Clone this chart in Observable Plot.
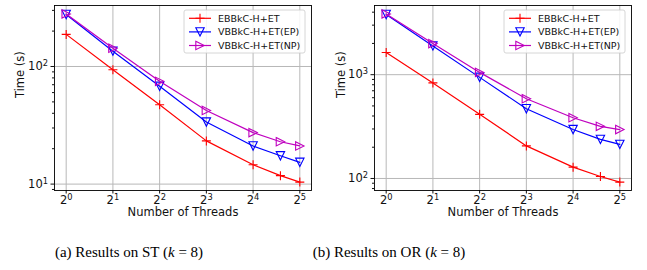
<!DOCTYPE html>
<html><head><meta charset="utf-8">
<script src="https://cdn.jsdelivr.net/npm/d3@7"></script>
<script src="https://cdn.jsdelivr.net/npm/@observablehq/plot@0.6"></script>
<style>
body{margin:0;background:#fff;}
#fig{position:relative;width:647px;height:270px;background:#fff;overflow:hidden}
.panel{position:absolute;top:0}
.cap{position:absolute;top:244px;font-family:"Liberation Serif",serif;font-size:15px;transform:translateX(-50%);white-space:nowrap;color:#000}
</style></head><body>
<div id="fig"></div>
<script>
// ---- data ----
const threads = [1, 2, 4, 8, 16, 24, 32];
const seriesNames = ["EBBkC-H+ET", "VBBkC-H+ET(EP)", "VBBkC-H+ET(NP)"];
const seriesColors = ["#ff0000", "#0000ff", "#bf00bf"];
// ST (k = 8)
const stEBBkC    = [187.5, 93.8, 47.3, 23.3, 14.6, 11.8, 10.4];
const stVBBkC_EP = [277, 135, 67.8, 33.7, 21.1, 17.4, 15.3];
const stVBBkC_NP = [280, 143, 74.8, 42.3, 27.4, 22.9, 21.1];
// OR (k = 8)
const orEBBkC    = [1633, 833, 415, 206, 128.6, 104.5, 92.3];
const orVBBkC_EP = [3800, 1892, 942, 470, 296, 238, 213];
const orVBBkC_NP = [3850, 1993, 1052, 586, 385, 318, 296];
// ticks
const xTicks = [1, 2, 4, 8, 16, 32];
const stYTicks = [10, 100];
const orYTicks = [100, 1000];
const xLabel = "Number of Threads";
const yLabel = "Time (s)";
const captions = [
  ["(a) Results on ST (", "k", " = 8)"],
  ["(b) Results on OR (", "k", " = 8)"]
];

// ---- helpers ----
const fmtPow = base => v => base + "^" + Math.round(Math.log(v) / Math.log(base));

const plusSym = {draw(ctx, size) { const h = Math.sqrt(size / Math.PI);
  ctx.moveTo(-h, 0); ctx.lineTo(h, 0); ctx.moveTo(0, -h); ctx.lineTo(0, h); }};
const triDown = {draw(ctx, size) { const h = Math.sqrt(size / Math.PI);
  ctx.moveTo(-h, -h); ctx.lineTo(h, -h); ctx.lineTo(0, h); ctx.closePath(); }};
const triRight = {draw(ctx, size) { const h = Math.sqrt(size / Math.PI);
  ctx.moveTo(-h, -h); ctx.lineTo(h, 0); ctx.lineTo(-h, h); ctx.closePath(); }};
const symbols = [plusSym, triDown, triRight];

function table(arrays) {
  const rows = [];
  arrays.forEach((arr, s) => arr.forEach((v, i) => rows.push({threads: threads[i], time: v, series: s})));
  return rows;
}

function panel(arrays, yTicks, cfg) {
  const data = table(arrays);
  const ly = d3.extent(data, d => Math.log10(d.time));
  const py = (ly[1] - ly[0]) * 0.05;
  const yDomain = [10 ** (ly[0] - py), 10 ** (ly[1] + py)];
  const lx = d3.extent(threads, t => Math.log2(t));
  const px = (lx[1] - lx[0]) * 0.05;
  const xDomain = [2 ** (lx[0] - px), 2 ** (lx[1] + px)];
  const minor = [];
  for (let e = Math.floor(ly[0] - py); e <= Math.ceil(ly[1] + py); e++)
    for (let k = 2; k <= 9; k++) { const v = k * 10 ** e; if (v >= yDomain[0] && v <= yDomain[1]) minor.push(v); }

  const marks = [
    Plot.gridX({ticks: xTicks, stroke: "#b8b8b8", strokeOpacity: 1, strokeWidth: 1}),
    Plot.gridY({ticks: yTicks, stroke: "#b8b8b8", strokeOpacity: 1, strokeWidth: 1}),
    Plot.axisX({ticks: xTicks, tickSize: 3.5, tickPadding: 1.5, tickFormat: fmtPow(2), label: null, fontSize: 11.5}),
    Plot.axisY({ticks: yTicks, tickSize: 3.5, tickPadding: 3, tickFormat: fmtPow(10), label: null, fontSize: 11.5}),
    Plot.axisY({ticks: minor, tickSize: 2, tickFormat: () => "", label: null}),
  ];
  seriesNames.forEach((name, s) => {
    const sd = data.filter(d => d.series === s);
    marks.push(Plot.line(sd, {x: "threads", y: "time", stroke: seriesColors[s], strokeWidth: 1.2}));
    marks.push(Plot.dot(sd, {x: "threads", y: "time", symbol: symbols[s], r: s === 0 ? 4.5 : 4.2,
      stroke: seriesColors[s], fill: "none", strokeWidth: 1.1}));
  });
  marks.push(Plot.frame({stroke: "black", strokeWidth: 0.9}));
  marks.push(Plot.text([xLabel], {text: d => d, frameAnchor: "bottom", dy: 25, fontSize: 11.5}));
  marks.push(Plot.text([yLabel], {text: d => d, frameAnchor: "left", dx: cfg.ylabDx, rotate: -90, fontSize: 11.5}));

  const svg = Plot.plot({
    width: cfg.width, height: 222,
    marginLeft: cfg.ml, marginRight: cfg.mr, marginTop: 5, marginBottom: 32,
    style: {fontFamily: "DejaVu Sans", background: "white", color: "#111", overflow: "visible"},
    x: {type: "log", base: 2, domain: xDomain},
    y: {type: "log", domain: yDomain},
    marks
  });

  // superscript tick labels (matplotlib mathtext style)
  d3.select(svg).selectAll("text").each(function() {
    const t = this.textContent;
    if (!t.includes("^")) return;
    const [b, e] = t.split("^");
    const sel = d3.select(this);
    sel.text(null);
    sel.append("tspan").text(b);
    sel.append("tspan").attr("font-size", "8.3px").attr("dy", "-0.5em").text(e);
  });

  // legend (upper right)
  const bw = 121, bh = 43;
  const bx = cfg.width - cfg.mr - 6 - bw, by = 10;
  const g = d3.select(svg).append("g").attr("font-family", "DejaVu Sans").attr("font-size", 9.5)
    .attr("text-anchor", "start");
  g.append("rect").attr("x", bx).attr("y", by).attr("width", bw).attr("height", bh).attr("rx", 2)
    .attr("fill", "white").attr("fill-opacity", 0.85).attr("stroke", "#cccccc").attr("stroke-width", 0.8);
  seriesNames.forEach((name, s) => {
    const yy = by + 8.3 + s * 13.6;
    g.append("line").attr("x1", bx + 5).attr("x2", bx + 27).attr("y1", yy).attr("y2", yy)
      .attr("stroke", seriesColors[s]).attr("stroke-width", 1.2);
    const p = d3.path();
    const r = s === 0 ? 4.5 : 4.2;
    symbols[s].draw(p, r * r * Math.PI);
    g.append("path").attr("d", p.toString()).attr("transform", `translate(${bx + 16},${yy})`)
      .attr("fill", "none").attr("stroke", seriesColors[s]).attr("stroke-width", 1.1);
    g.append("text").attr("x", bx + 34).attr("y", yy).attr("dy", "0.35em").attr("fill", "#111")
      .attr("text-anchor", "start").text(name);
  });
  return svg;
}

const fig = document.getElementById("fig");
const specs = [
  {arrays: [stEBBkC, stVBBkC_EP, stVBBkC_NP], yTicks: stYTicks, cfg: {width: 323, ml: 54, mr: 12, ylabDx: -34}, left: 0, capX: 129},
  {arrays: [orEBBkC, orVBBkC_EP, orVBBkC_NP], yTicks: orYTicks, cfg: {width: 324, ml: 51, mr: 16, ylabDx: -33}, left: 323, capX: 389}
];
specs.forEach((sp, i) => {
  const div = document.createElement("div");
  div.className = "panel";
  div.style.left = sp.left + "px";
  div.appendChild(panel(sp.arrays, sp.yTicks, sp.cfg));
  fig.appendChild(div);
  const cap = document.createElement("div");
  cap.className = "cap";
  cap.style.left = sp.capX + "px";
  const [a, k, b] = captions[i];
  cap.append(a);
  const it = document.createElement("i"); it.textContent = k; cap.append(it);
  cap.append(b);
  fig.appendChild(cap);
});
</script>
</body></html>
